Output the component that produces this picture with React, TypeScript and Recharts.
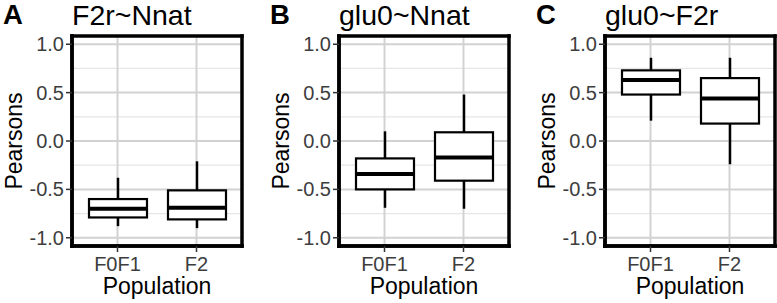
import { Bar, CartesianGrid, ComposedChart, XAxis, YAxis } from 'recharts';

const populations = ['F0F1', 'F2'];
const panelLetters = ['A', 'B', 'C'];
const panelTitles = ['F2r~Nnat', 'glu0~Nnat', 'glu0~F2r'];

// per population: [lower whisker, q1, median, q3, upper whisker]
const f2rNnat = [
  [-0.88, -0.79, -0.70, -0.60, -0.38],
  [-0.90, -0.81, -0.69, -0.51, -0.21],
];
const glu0Nnat = [
  [-0.69, -0.50, -0.34, -0.18, 0.10],
  [-0.70, -0.41, -0.17, 0.09, 0.48],
];
const glu0F2r = [
  [0.21, 0.48, 0.63, 0.73, 0.86],
  [-0.24, 0.18, 0.44, 0.65, 0.86],
];

const yTicks = [-1, -0.5, 0, 0.5, 1];
const yMinor = [-0.75, -0.25, 0.25, 0.75];

const panels = [f2rNnat, glu0Nnat, glu0F2r];

const FONT = '"Liberation Sans", Arial, sans-serif';

const BoxShape = (props: any) => {
  const { x, y, width, height, payload } = props;
  const [lo, q1, med, q3, hi] = payload.stats;
  // pixels per unit, taken from the bar the library placed for [q1, q3]
  const k = height / (q3 - q1);
  const py = (v: number) => y + (q3 - v) * k;
  const cx = x + width / 2;
  return (
    <g>
      <line x1={cx} x2={cx} y1={py(hi)} y2={py(q3)} stroke="#000" strokeWidth={2.5} />
      <line x1={cx} x2={cx} y1={py(q1)} y2={py(lo)} stroke="#000" strokeWidth={2.5} />
      <rect x={x} y={y} width={width} height={height} fill="#fff" stroke="#000" strokeWidth={2.2} />
      <line x1={x} x2={x + width} y1={py(med)} y2={py(med)} stroke="#000" strokeWidth={4} />
    </g>
  );
};

const border = { stroke: '#000', strokeWidth: 3.5, strokeLinecap: 'square' as const };
const tickStyle = { fill: '#3d3d3d', fontSize: 20 };

// panel frame: lines on the plot area's own edges
const frameRows = ({ offset }: any) => [offset.top, offset.top + offset.height];
const frameCols = ({ offset }: any) => [offset.left, offset.left + offset.width];

function Panel({ stats, letter, title, left }: { stats: number[][]; letter: string; title: string; left: number }) {
  const data = populations.map((p, i) => ({ population: p, box: [stats[i][1], stats[i][3]], stats: stats[i] }));
  return (
    <div style={{ position: 'absolute', left, top: 0, width: 244, height: 303 }}>
      <ComposedChart width={244} height={303} data={data} margin={{ top: 36, right: 2, bottom: 0, left: 0 }}>
        <CartesianGrid horizontalValues={yMinor} vertical={false} stroke="#e6e6e6" strokeWidth={1.3} />
        <CartesianGrid horizontalValues={yTicks} stroke="#d2d2d2" strokeWidth={2} />
        <CartesianGrid
          horizontalCoordinatesGenerator={frameRows}
          verticalCoordinatesGenerator={frameCols}
          stroke="#000"
          strokeWidth={3.5}
          strokeLinecap="square"
        />
        <XAxis
          dataKey="population"
          padding={{ left: 6, right: 6 }}
          height={57}
          tickSize={6}
          tickMargin={5}
          tick={tickStyle}
          tickLine={{ stroke: '#333', strokeWidth: 1.5 }}
          axisLine={border}
          label={{ value: 'Population', position: 'insideBottom', offset: 9, fill: '#000', fontSize: 23 }}
        />
        <YAxis
          domain={[-1.085, 1.085]}
          ticks={yTicks}
          tickFormatter={(v: number) => v.toFixed(1)}
          width={72}
          tickSize={6}
          tickMargin={2}
          tick={tickStyle}
          tickLine={{ stroke: '#333', strokeWidth: 1.5 }}
          axisLine={border}
          label={{ value: 'Pearsons', angle: -90, position: 'insideLeft', offset: 14, fill: '#000', fontSize: 23, style: { textAnchor: 'middle' } }}
        />
        <Bar dataKey="box" barSize={58} shape={BoxShape} isAnimationActive={false} />
      </ComposedChart>
      <svg width={244} height={36} style={{ position: 'absolute', left: 0, top: 0 }}>
        <text x={3} y={24} fontSize={27.5} fontWeight="bold" fill="#000">{letter}</text>
        <text x={72} y={25} fontSize={28.5} fill="#000">{title}</text>
      </svg>
    </div>
  );
}

export default function App() {
  return (
    <div style={{ position: 'absolute', left: 0, top: 0, width: 777, height: 303, overflow: 'hidden', background: '#fff', fontFamily: FONT }}>
      {panels.map((stats, i) => (
        <Panel key={i} stats={stats} letter={panelLetters[i]} title={panelTitles[i]} left={i * 266.5} />
      ))}
    </div>
  );
}
